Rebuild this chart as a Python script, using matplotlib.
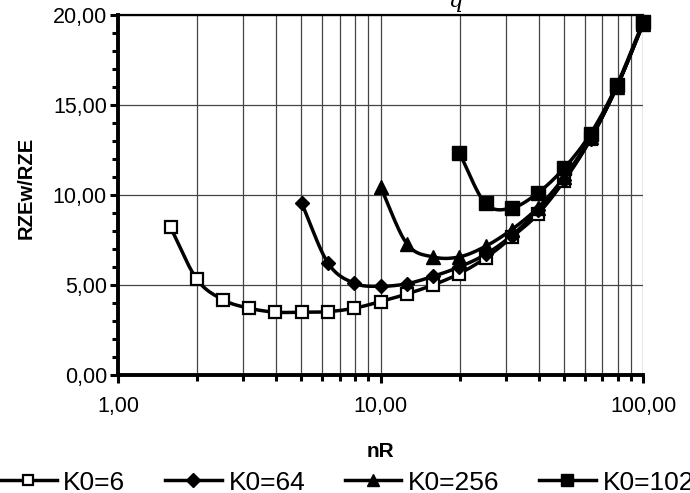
import numpy as np
import matplotlib
matplotlib.use("Agg")
import matplotlib.pyplot as plt
from matplotlib.ticker import FixedLocator, FuncFormatter, LogLocator, NullFormatter, MultipleLocator

plt.rcParams['font.family'] = ['Liberation Sans', 'DejaVu Sans']

# Data (nR on log axis, steps of 10^0.1)
x_k6 = [1.585, 1.995, 2.512, 3.162, 3.981, 5.012, 6.310, 7.943, 10.0, 12.59, 15.85, 19.95, 25.12, 31.62, 39.81, 50.12, 63.10, 79.43, 100.0]
y_k6 = [8.2, 5.33, 4.18, 3.71, 3.49, 3.49, 3.52, 3.71, 4.08, 4.5, 5.0, 5.63, 6.5, 7.65, 8.95, 10.8, 13.1, 16.0, 19.5]

x_k64 = [5.012, 6.310, 7.943, 10.0, 12.59, 15.85, 19.95, 25.12, 31.62, 39.81, 50.12, 63.10, 79.43, 100.0]
y_k64 = [9.53, 6.22, 5.1, 4.93, 5.07, 5.48, 6.0, 6.7, 7.75, 9.15, 10.85, 13.1, 16.0, 19.5]

x_k256 = [10.0, 12.59, 15.85, 19.95, 25.12, 31.62, 39.81, 50.12, 63.10, 79.43, 100.0]
y_k256 = [10.45, 7.3, 6.56, 6.56, 7.15, 8.08, 9.3, 11.0, 13.2, 16.0, 19.5]

x_k1024 = [19.95, 25.12, 31.62, 39.81, 50.12, 63.10, 79.43, 100.0]
y_k1024 = [12.35, 9.53, 9.28, 10.12, 11.5, 13.4, 16.1, 19.6]

labels = ['K0=6', 'K0=64', 'K0=256', 'K0=1024']
x_ticks = [1, 10, 100]
y_ticks = [0, 5, 10, 15, 20]


def smooth(xs, ys, n=20):
    """Catmull-Rom smoothing in (log10 x, y) space, like Excel smoothed lines."""
    lx = np.log10(xs)
    ys = np.asarray(ys, float)
    P = np.column_stack([lx, ys])
    if len(P) < 3:
        return xs, ys
    ext = np.vstack([2 * P[0] - P[1], P, 2 * P[-1] - P[-2]])
    out = []
    for i in range(1, len(ext) - 2):
        p0, p1, p2, p3 = ext[i - 1], ext[i], ext[i + 1], ext[i + 2]
        t = np.linspace(0, 1, n, endpoint=False)[:, None]
        seg = 0.5 * ((2 * p1) + (-p0 + p2) * t + (2 * p0 - 5 * p1 + 4 * p2 - p3) * t ** 2 +
                     (-p0 + 3 * p1 - 3 * p2 + p3) * t ** 3)
        out.append(seg)
    out.append(P[-1][None, :])
    out = np.vstack(out)
    return 10 ** out[:, 0], out[:, 1]


fig = plt.figure(figsize=(6.9, 4.93), dpi=100)
ax = fig.add_axes([118 / 690, 1 - 375 / 493, (643 - 118) / 690, (375 - 15) / 493])

series = [
    (x_k6, y_k6, dict(marker='s', mfc='white', mec='black', ms=8, mew=1.6)),
    (x_k64, y_k64, dict(marker='D', mfc='black', mec='black', ms=7)),
    (x_k256, y_k256, dict(marker='^', mfc='black', mec='black', ms=9.5)),
    (x_k1024, y_k1024, dict(marker='s', mfc='black', mec='black', ms=9.5)),
]

handles = []
for (xs, ys, mk), lab in zip(series, labels):
    sx, sy = smooth(xs, ys)
    ax.plot(sx, sy, color='black', lw=2.5, zorder=3, clip_on=False)
    ax.plot(xs, ys, ls='none', zorder=4, clip_on=False, **mk)
    h, = ax.plot([], [], color='black', lw=2.5, **mk)
    handles.append(h)

ax.set_xscale('log')
ax.set_xlim(1, 100)
ax.set_ylim(0, 20)

ax.xaxis.set_major_locator(FixedLocator(x_ticks))
ax.xaxis.set_minor_locator(LogLocator(base=10, subs=np.arange(2, 10)))
ax.xaxis.set_minor_formatter(NullFormatter())
ax.xaxis.set_major_formatter(FuncFormatter(lambda v, p: f"{v:.2f}".replace('.', ',')))
ax.yaxis.set_major_locator(FixedLocator(y_ticks))
ax.yaxis.set_minor_locator(MultipleLocator(1))
ax.yaxis.set_major_formatter(FuncFormatter(lambda v, p: f"{v:.2f}".replace('.', ',')))

ax.grid(True, which='major', axis='both', color='#444444', lw=0.9)
ax.grid(True, which='minor', axis='x', color='#444444', lw=0.9)
ax.set_axisbelow(True)

for s in ['left', 'bottom']:
    ax.spines[s].set_linewidth(2.8)
ax.spines['top'].set_linewidth(1.6)
ax.spines['right'].set_visible(False)

ax.tick_params(axis='both', which='major', direction='out', length=6, width=2.2, labelsize=15.5)
ax.tick_params(axis='both', which='minor', direction='out', length=4, width=2.2)
ax.tick_params(axis='x', which='major', pad=9)
ax.tick_params(axis='y', which='major', pad=2)

ax.set_xlabel('nR', fontsize=15, fontweight='bold', labelpad=18)
ax.set_ylabel('RZEw/RZE', fontsize=14.5, fontweight='bold', labelpad=12, y=0.52)

fig.text(455 / 690, 1 - 7 / 493, 'q', fontsize=16, style='italic', family='DejaVu Serif',
         ha='center', va='baseline')

fig.legend(handles, labels, loc='center left', bbox_to_anchor=(0.0, 1 - 482.5 / 493),
           ncol=4, frameon=False, fontsize=19, handlelength=2.15, handletextpad=0.25,
           columnspacing=1.5, borderaxespad=0, borderpad=0, markerscale=0.95)

fig.savefig('out.png', dpi=100)
